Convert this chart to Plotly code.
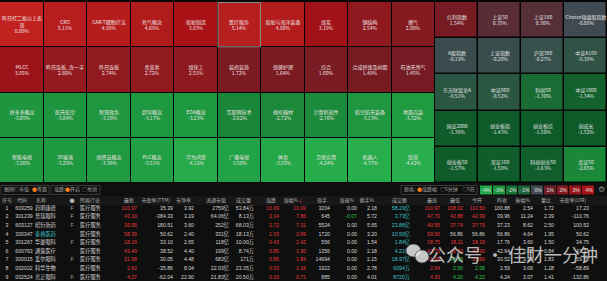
import plotly.graph_objects as go

W, H = 607, 281

# ---------------- data ----------------
sector_names = [
    ["昨日打二板以上表现", "CRO", "CAR-T细胞疗法", "氦气概念", "船舶制造", "医疗服务", "船舶与海洋装备", "煤炭", "钢结构", "燃气"],
    ["MLCC", "昨日连板_含一字", "昨日连板", "青蒿素", "煤化工", "装修装饰", "保健护理", "综合", "合成纤维及树脂", "石油天然气"],
    ["拼多多概念", "航天航空", "智慧政务", "超导概念", "EDA概念", "互联网技术", "视听器材", "计算机软件", "航空航天装备", "地面兵装"],
    ["智能电视", "3D玻璃", "国资云概念", "PLC概念", "华为鸿蒙", "广播电视", "体育", "卫星应用", "机器人", "铁塔"],
]
sector_pct = [
    [8.09, 5.11, 4.99, 4.69, 3.83, 5.14, 4.80, 3.19, 2.54, 2.00],
    [3.05, 2.80, 2.74, 2.72, 2.51, 1.72, 1.64, 1.60, 1.49, 1.45],
    [-3.05, -3.04, -3.10, -3.17, -3.23, -2.62, -2.72, -2.76, -3.13, -3.32],
    [-3.26, -3.29, -3.36, -3.51, -4.12, -3.58, -3.95, -4.24, -4.37, -4.42],
]
selected_sector = "医疗服务"

index_names = [
    ["红利指数", "上证50", "上证180", "Choice微盘股指数"],
    ["A股指数", "上证指数", "沪深300", "中证A100"],
    ["东方财富全A", "中证800", "科创50", "中证1000"],
    ["国证2000", "创业板指", "创业板综", "创成长"],
    ["创业板50", "深证100", "科创创业50", "北证50"],
]
index_pct = [
    [1.54, 0.35, 0.30, -0.08],
    [-0.19, -0.20, -0.27, -0.39],
    [-0.51, -0.52, -1.30, -1.34],
    [-1.36, -1.43, -1.50, -1.52],
    [-1.57, -1.59, -1.63, -2.65],
]

legend_steps = [-4, -3, -2, -1, 0, 1, 2, 3, 4]

table_headers = ["序号", "代码", "名称", "●", "所属行业", "最新", "市盈率(TTM)", "市净率",
                 "流通市值", "成交量", "涨跌", "涨幅%<span style='color:#ff4a4a'>↓</span>", "现手", "涨速%",
                 "换手%", "成交额", "最高", "最低", "今开", "昨收", "振幅%", "量比", "市盈率(LYR)"]
seq_no = [1, 2, 3, 4, 5, 6, 7, 8, 9]
codes = ["603259", "301239", "603127", "300347", "301267", "600763", "300015", "002022", "002524"]
stock_names = ["药明康德", "普瑞眼科", "昭衍新药", "泰格医药", "华厦眼科", "通策医疗", "爱尔眼科", "科华生物", "光正眼科"]
flags = ["F", "F", "F", "", "F", "", "F", "", "F"]
industry = ["医疗服务"] * 9
last_price = [110.97, 43.10, 39.95, 58.39, 18.19, 43.49, 31.08, 2.62, 4.27]
pe_ttm = [35.39, -384.33, 180.51, 50.62, 33.10, 38.52, 30.05, -35.86, -62.04]
pb = [3.92, 3.19, 3.60, 2.40, 2.65, 4.40, 4.48, 8.04, 22.90]
float_cap = ["2759亿", "64.06亿", "252亿", "331亿", "118亿", "199亿", "683亿", "22.03亿", "21.83亿"]
volume = ["53.84万", "8.13万", "68.03万", "18.13万", "10.00万", "8.74万", "171万", "23.35万", "20.50万"]
change = [10.09, 3.14, 2.72, 1.53, 0.43, 0.85, 0.56, 0.03, 0.03]
change_pct = [10.00, 7.86, 7.31, 2.69, 2.42, 1.90, 1.84, 1.16, 0.71]
last_lot = [3204, 645, 5524, 1720, 556, 1356, 14694, 1922, 885]
speed = [0.00, -0.07, 0.00, 0.00, 0.00, 0.00, 0.00, 0.00, 0.00]
turnover = [2.18, 5.72, 5.65, 3.20, 1.54, 2.18, 2.15, 2.78, 4.01]
amount = ["58.29亿", "3.73亿", "23.86亿", "10.50亿", "1.84亿", "4.21亿", "18.97亿", "6094万", "8720万"]
high = [110.97, 47.70, 40.95, 59.50, 18.75, 43.75, 31.38, 2.64, 4.33]
low = [108.02, 42.88, 37.74, 56.86, 18.11, 42.70, 30.38, 2.56, 4.20]
open_ = [110.50, 42.99, 37.75, 56.86, 18.19, 42.90, 30.60, 2.58, 4.22]
prev_close = [100.88, 39.96, 37.23, 56.86, 17.76, 42.64, 30.52, 2.59, 4.24]
amplitude = [2.54, 11.24, 8.62, 4.64, 3.60, 2.68, 3.28, 3.09, 3.07]
vol_ratio = [1.72, 2.39, 2.50, 1.95, 1.50, 0.84, 1.83, 1.28, 1.41]
pe_lyr = [17.23, -110.76, 100.53, 50.62, 34.75, 43.33, 59.78, -58.89, -132.86]
watched = ["泰格医药"]

# ---------------- styles ----------------
FONT = "Noto Sans CJK SC, Noto Sans, sans-serif"
NUMFONT = "Liberation Sans, Noto Sans CJK SC, sans-serif"
RED, GREEN, WHITE, CYAN, GREY = "#ea3838", "#27c24c", "#d6d6d6", "#3fc7cf", "#a8a8a8"
ORANGE = "#ff7a1a"

stops = [
    (-5.0, "#2cb654"), (-4.2, "#27ab4b"), (-3.6, "#22a346"), (-3.4, "#1f9b42"),
    (-3.0, "#1d953f"), (-2.8, "#1b8b3a"), (-2.6, "#1a8638"), (-2.0, "#157234"),
    (-1.7, "#105f2c"), (-1.45, "#0e5a29"), (-1.36, "#0f5b29"), (-1.3, "#1a6c34"),
    (-0.8, "#235e3c"), (-0.45, "#2d5444"), (-0.3, "#34524a"), (-0.15, "#3c4a4f"),
    (0.0, "#434a55"), (0.2, "#50343e"), (0.4, "#5c2a34"), (1.0, "#6c1f28"),
    (1.5, "#761b22"), (1.8, "#7e1a21"), (2.1, "#881a20"), (2.8, "#921a1f"),
    (3.1, "#9e1218"), (3.5, "#a61016"), (4.0, "#aa1418"), (4.7, "#b01b1c"),
    (5.2, "#b81e1e"), (8.5, "#c2221f"),
]
ZMIN, ZMAX = stops[0][0], stops[-1][0]
colorscale = [[(v - ZMIN) / (ZMAX - ZMIN), c] for v, c in stops]


def wrap(name, limit=8.6):
    """wrap a label by visual width (CJK=1, ASCII~0.55)"""
    lines, cur, w = [], "", 0.0
    for ch in name:
        cw = 0.55 if ord(ch) < 128 else 1.0
        if w + cw > limit and cur:
            lines.append(cur)
            cur, w = "", 0.0
        cur += ch
        w += cw
    lines.append(cur)
    return "<br>".join(lines)


def edges(a, b, n):
    return [a + (b - a) * i / n for i in range(n + 1)]


fig = go.Figure()

# ---------------- heat panels ----------------
TOP, BOT = 2, 183
SPLIT = 435
s_rows, s_cols = len(sector_pct), len(sector_pct[0])
sx, sy = edges(0, SPLIT, s_cols), edges(TOP, BOT, s_rows)
fig.add_trace(go.Heatmap(
    x=sx, y=sy, z=sector_pct,
    text=[[f"{wrap(n)}<br>{v:.2f}%" for n, v in zip(rn, rv)] for rn, rv in zip(sector_names, sector_pct)],
    texttemplate="%{text}", textfont=dict(size=5, color="#efe2e2", family=FONT),
    colorscale=colorscale, zmin=ZMIN, zmax=ZMAX, xgap=1, ygap=1,
    showscale=False, hoverinfo="skip"))

i_rows, i_cols = len(index_pct), len(index_pct[0])
ix, iy = edges(SPLIT, W, i_cols), edges(TOP, BOT, i_rows)
fig.add_trace(go.Heatmap(
    x=ix, y=iy, z=index_pct,
    text=[[f"{wrap(n, 9.5)}<br>{v:.2f}%" for n, v in zip(rn, rv)] for rn, rv in zip(index_names, index_pct)],
    texttemplate="%{text}", textfont=dict(size=5, color="#e4e4e4", family=FONT),
    colorscale=colorscale, zmin=ZMIN, zmax=ZMAX, xgap=1.5, ygap=1.5,
    showscale=False, hoverinfo="skip"))

shapes = []
# selected tile border
for r, row in enumerate(sector_names):
    for c, nm in enumerate(row):
        if nm == selected_sector:
            shapes.append(dict(type="rect", xref="x", yref="y", x0=sx[c] + 0.5, x1=sx[c + 1] - 0.5,
                               y0=sy[r] + 0.5, y1=sy[r + 1] - 0.5, line=dict(color="#8a8a8a", width=1)))

# ---------------- toolbar ----------------
TB_Y0, TB_Y1 = 185.5, 194.5
TB_Y = (TB_Y0 + TB_Y1) / 2
shapes += [
    dict(type="rect", xref="x", yref="y", x0=0, x1=W, y0=BOT, y1=H, fillcolor="#0f0f0f", line_width=0, layer="below"),
    dict(type="rect", xref="x", yref="y", x0=0, x1=W, y0=196, y1=205, fillcolor="#171717", line_width=0, layer="below"),
    dict(type="rect", xref="x", yref="y", x0=1, x1=49, y0=TB_Y0, y1=TB_Y1, line=dict(color="#3a3a3a", width=1)),
    dict(type="rect", xref="x", yref="y", x0=51, x1=100, y0=TB_Y0, y1=TB_Y1, line=dict(color="#3a3a3a", width=1)),
    dict(type="rect", xref="x", yref="y", x0=401, x1=477, y0=TB_Y0, y1=TB_Y1, line=dict(color="#3a3a3a", width=1)),
]
tb_items = [
    (4, "图例:", GREY), (14, "○", GREY), (19, "市值", GREY), (32, "●", ORANGE), (37, "等面", GREY),
    (54, "涨跌:", GREY), (65, "●", ORANGE), (70, "开启", GREY), (82, "○", GREY), (87, "关闭", GREY),
    (404, "颜色:", GREY), (417, "●", ORANGE), (422, "涨跌幅", GREY), (440, "○", GREY), (445, "5分钟", GREY),
    (462, "○", GREY), (467, "5日", GREY),
]
fig.add_trace(go.Scatter(
    x=[t[0] for t in tb_items], y=[TB_Y] * len(tb_items), mode="text",
    text=[t[1] for t in tb_items], textposition="middle right",
    textfont=dict(size=5, color=[t[2] for t in tb_items], family=FONT), hoverinfo="skip", showlegend=False))

lx = edges(480, 595, len(legend_steps))
fig.add_trace(go.Heatmap(
    x=lx, y=[TB_Y0, TB_Y1], z=[legend_steps],
    text=[[f"{v}%" for v in legend_steps]], texttemplate="%{text}",
    textfont=dict(size=5, color="#e0e0e0", family=NUMFONT),
    colorscale=colorscale, zmin=ZMIN, zmax=ZMAX, xgap=1, ygap=0,
    showscale=False, hoverinfo="skip"))
fig.add_trace(go.Scatter(x=[601], y=[TB_Y], mode="text", text=["⚙"], textposition="middle center",
                         textfont=dict(size=8, color="#8a8a8a"), hoverinfo="skip", showlegend=False))

# ---------------- table ----------------
HEAD_Y = 200.5
ROW0, ROW_H = 208.3, 8.65
n_rows = len(seq_no)
row_y = [ROW0 + i * ROW_H for i in range(n_rows)]


def updown(vals, ref):
    return [RED if v > r else (GREEN if v < r else WHITE) for v, r in zip(vals, ref)]


def sign(vals):
    return [RED if v > 0 else (GREEN if v < 0 else WHITE) for v in vals]


f2 = lambda vals: [f"{v:.2f}" for v in vals]
columns = [
    ([str(v) for v in seq_no], [WHITE] * n_rows),
    (codes, [WHITE] * n_rows),
    (stock_names, [CYAN if n in watched else WHITE for n in stock_names]),
    (flags, [GREY] * n_rows),
    (industry, [WHITE] * n_rows),
    (f2(last_price), updown(last_price, prev_close)),
    (f2(pe_ttm), [WHITE] * n_rows),
    (f2(pb), [WHITE] * n_rows),
    (float_cap, [WHITE] * n_rows),
    (volume, [WHITE] * n_rows),
    (f2(change), sign(change)),
    (f2(change_pct), sign(change_pct)),
    ([str(v) for v in last_lot], [WHITE] * n_rows),
    (f2(speed), sign(speed)),
    (f2(turnover), [WHITE] * n_rows),
    (amount, [CYAN] * n_rows),
    (f2(high), updown(high, prev_close)),
    (f2(low), updown(low, prev_close)),
    (f2(open_), updown(open_, prev_close)),
    (f2(prev_close), [WHITE] * n_rows),
    (f2(amplitude), [WHITE] * n_rows),
    (f2(vol_ratio), [WHITE] * n_rows),
    (f2(pe_lyr), [WHITE] * n_rows),
]
col_anchor = [7, 24, 35, 72, 80, 137, 173, 194, 229, 254, 279, 306, 330, 357, 377, 410, 440, 463, 485, 510, 533, 554, 589]
col_align = ["middle center", "middle center", "middle right", "middle center", "middle right"] + ["middle left"] * 18
head_shift = [0, -2, 1, 0, 0] + [-3] * 18

for (vals, colors), xa, al, hs, hd in zip(columns, col_anchor, col_align, head_shift, table_headers):
    fig.add_trace(go.Scatter(
        x=[xa] * n_rows, y=row_y, mode="text", text=vals, textposition=al,
        textfont=dict(size=5.2, color=colors, family=NUMFONT), hoverinfo="skip", showlegend=False, cliponaxis=True))
    fig.add_trace(go.Scatter(
        x=[xa + hs], y=[HEAD_Y], mode="text", text=[hd], textposition=al,
        textfont=dict(size=5, color="#b4b4b4", family=FONT), hoverinfo="skip", showlegend=False))

# ---------------- watermark ----------------
shapes += [
    dict(type="circle", xref="x", yref="y", x0=406, x1=421, y0=244, y1=257,
         fillcolor="rgba(230,230,230,0.85)", line=dict(color="rgba(40,40,40,0.6)", width=1)),
    dict(type="circle", xref="x", yref="y", x0=415, x1=429, y0=250, y1=263,
         fillcolor="rgba(230,230,230,0.85)", line=dict(color="rgba(40,40,40,0.6)", width=1)),
]
annotations = [dict(x=513, y=254, xref="x", yref="y", text="公众号 · 佳财一分钟", showarrow=False,
                    font=dict(size=18, color="rgba(235,235,235,0.8)", family=FONT))]

fig.update_layout(
    width=W, height=H, margin=dict(l=0, r=0, t=0, b=0),
    paper_bgcolor="#050505", plot_bgcolor="#050505",
    font=dict(family=FONT), showlegend=False,
    shapes=shapes, annotations=annotations,
    xaxis=dict(range=[0, W], domain=[0, 1], visible=False, fixedrange=True),
    yaxis=dict(range=[H, 0], domain=[0, 1], visible=False, fixedrange=True),
)
fig.write_html("out.html", config={"displayModeBar": False})
